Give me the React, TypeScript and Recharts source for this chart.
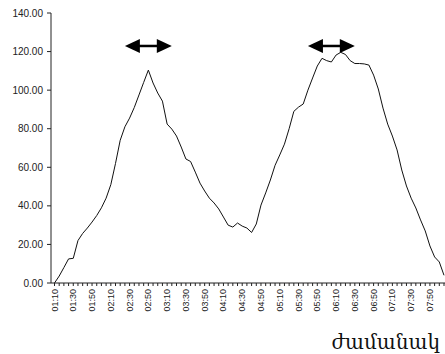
import { LineChart, Line, XAxis, YAxis, ReferenceLine } from 'recharts';

const TIMES = [
  '01:10', '01:15', '01:20', '01:25', '01:30', '01:35', '01:40', '01:45', '01:50', '01:55',
  '02:00', '02:05', '02:10', '02:15', '02:20', '02:25', '02:30', '02:35', '02:40', '02:45', '02:50', '02:55',
  '03:00', '03:05', '03:10', '03:15', '03:20', '03:25', '03:30', '03:35', '03:40', '03:45', '03:50', '03:55',
  '04:00', '04:05', '04:10', '04:15', '04:20', '04:25', '04:30', '04:35', '04:40', '04:45', '04:50', '04:55',
  '05:00', '05:05', '05:10', '05:15', '05:20', '05:25', '05:30', '05:35', '05:40', '05:45', '05:50', '05:55',
  '06:00', '06:05', '06:10', '06:15', '06:20', '06:25', '06:30', '06:35', '06:40', '06:45', '06:50', '06:55',
  '07:00', '07:05', '07:10', '07:15', '07:20', '07:25', '07:30', '07:35', '07:40', '07:45', '07:50', '07:55',
  '08:00', '08:05',
];

const VALUES = [
  0, 3.6, 8, 12.5, 12.8, 22, 25.7, 28.5, 31.6, 35,
  39, 44, 51, 62, 74, 81, 85.5, 91, 97.5, 104, 110.4, 103.7,
  98.5, 94.3, 82.4, 79.8, 76.2, 70.5, 64.3, 63, 57.5, 51.8, 47.7, 44,
  41.5, 38.4, 34.2, 30, 29, 31.1, 29.5, 28.5, 26.2, 30.6, 40.4, 46.7,
  53.4, 61, 66.4, 72, 80, 89, 91.2, 92.8, 100, 106.3, 112.5, 116.5,
  115.3, 114.6, 118.2, 119.6, 118.5, 115.3, 113.8, 113.8, 113.6, 113, 107.8, 100.6,
  90.7, 82.4, 76.2, 69, 58.6, 50.3, 44, 38.9, 32.7, 27, 19.2, 13.5,
  10.9, 4,
];

const Y_TICKS = [0, 20, 40, 60, 80, 100, 120, 140];

// double arrows over the two peaks: [from, to] in categories, at this level
const ARROWS: [string, string][] = [
  ['02:25', '03:15'],
  ['05:40', '06:30'],
];
const ARROW_LEVEL = 122.9;

const data = TIMES.map((t, i) => ({ time: t, value: VALUES[i] }));

const FONT = '"Liberation Sans", Arial, sans-serif';

function TimeTick(props: any) {
  const { x, y, payload, index } = props;
  if (index % 4 !== 0) return null;
  return (
    <g transform={`translate(${x},${y})`}>
      <text
        transform="rotate(-90)"
        x={0}
        y={0}
        textAnchor="end"
        dominantBaseline="central"
        fontSize={9}
        fontFamily={FONT}
        fill="#222"
      >
        {payload.value}
      </text>
    </g>
  );
}

function DoubleArrow(props: any) {
  const { x1, y1, x2 } = props;
  if (x1 == null || x2 == null) return null;
  const head = 15;
  const half = 7;
  return (
    <g>
      <line x1={x1 + head - 2} y1={y1} x2={x2 - head + 2} y2={y1} stroke="#000" strokeWidth={2.5} />
      <polygon points={`${x1},${y1} ${x1 + head},${y1 - half} ${x1 + head},${y1 + half}`} fill="#000" />
      <polygon points={`${x2},${y1} ${x2 - head},${y1 - half} ${x2 - head},${y1 + half}`} fill="#000" />
    </g>
  );
}

export default function App() {
  return (
    <div style={{ position: 'absolute', left: 0, top: 0, background: '#fff' }}>
      <LineChart width={445} height={354} data={data} margin={{ top: 13, right: 0, bottom: 0, left: 0 }}>
        <XAxis
          dataKey="time"
          interval={0}
          height={71}
          padding={{ left: 3.5, right: 1 }}
          tick={<TimeTick />}
          tickSize={3}
          tickMargin={3}
          stroke="#222"
          label={{
            value: 'ժամանակ',
            position: 'insideBottomRight',
            offset: 5,
            fill: '#111',
            fontSize: 20,
            fontFamily: '"DejaVu Serif", serif',
          }}
        />
        <YAxis
          domain={[0, 140]}
          ticks={Y_TICKS}
          width={51}
          tickSize={4}
          tickMargin={4}
          stroke="#222"
          tickFormatter={(v: number) => v.toFixed(2)}
          tick={{ fontSize: 10, fontFamily: FONT, fill: '#222' }}
        />
        {ARROWS.map(([a, b], i) => (
          <ReferenceLine
            key={i}
            segment={[{ x: a, y: ARROW_LEVEL }, { x: b, y: ARROW_LEVEL }]}
            shape={<DoubleArrow />}
          />
        ))}
        <Line
          type="linear"
          dataKey="value"
          stroke="#111"
          strokeWidth={1}
          dot={false}
          isAnimationActive={false}
        />
      </LineChart>
    </div>
  );
}
